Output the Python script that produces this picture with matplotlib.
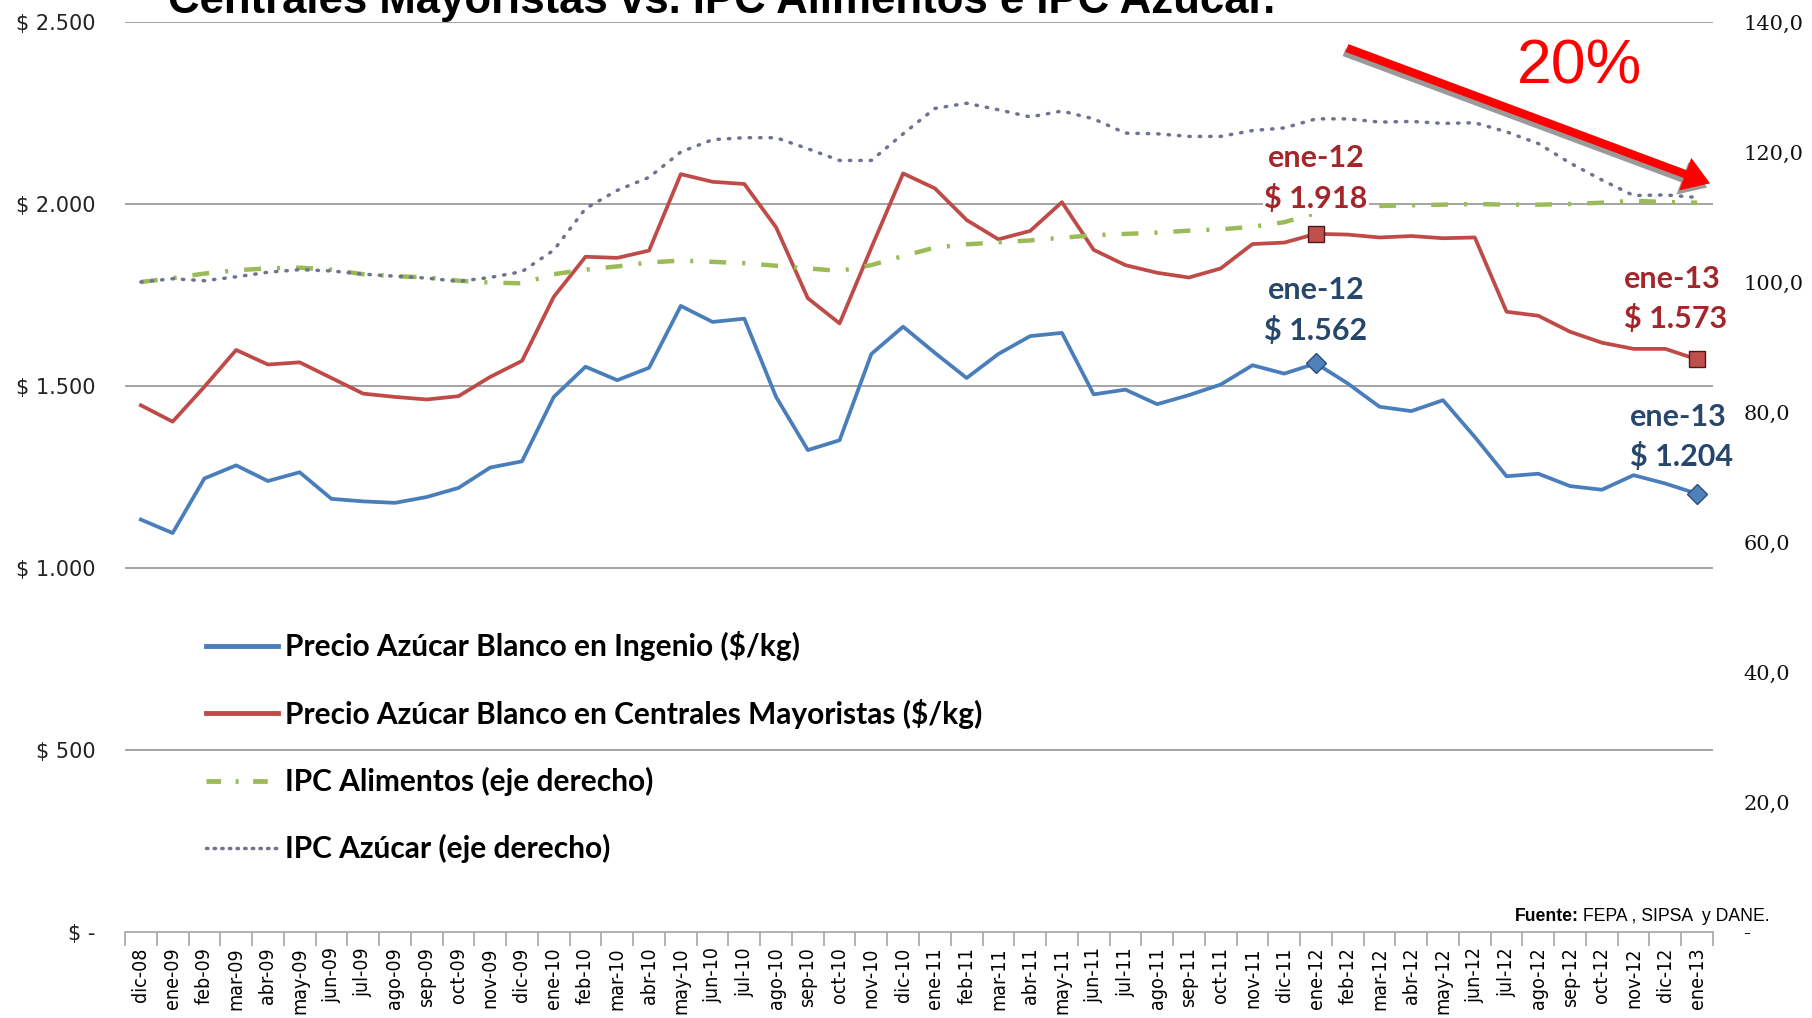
import numpy as np
import matplotlib
matplotlib.use('Agg')
import matplotlib.pyplot as plt
from matplotlib import font_manager as fm
from matplotlib import patheffects as pe
from matplotlib.lines import Line2D

months = ['dic-08',
          'ene-09', 'feb-09', 'mar-09', 'abr-09', 'may-09', 'jun-09', 'jul-09', 'ago-09', 'sep-09', 'oct-09', 'nov-09', 'dic-09',
          'ene-10', 'feb-10', 'mar-10', 'abr-10', 'may-10', 'jun-10', 'jul-10', 'ago-10', 'sep-10', 'oct-10', 'nov-10', 'dic-10',
          'ene-11', 'feb-11', 'mar-11', 'abr-11', 'may-11', 'jun-11', 'jul-11', 'ago-11', 'sep-11', 'oct-11', 'nov-11', 'dic-11',
          'ene-12', 'feb-12', 'mar-12', 'abr-12', 'may-12', 'jun-12', 'jul-12', 'ago-12', 'sep-12', 'oct-12', 'nov-12', 'dic-12',
          'ene-13']

ingenio = [1133, 1096, 1246, 1282, 1239, 1263, 1190, 1183, 1179, 1195,
           1220, 1276, 1293, 1470, 1553, 1516, 1550, 1720, 1676, 1685,
           1470, 1324, 1351, 1588, 1663, 1591, 1522, 1588, 1637, 1646,
           1477, 1490, 1450, 1475, 1504, 1557, 1534, 1562, 1507, 1443,
           1431, 1461, 1360, 1252, 1259, 1225, 1215, 1255, 1232, 1204]

centrales = [1447, 1402, 1498, 1599, 1559, 1565, 1522, 1479, 1470, 1463,
             1472, 1525, 1569, 1745, 1855, 1852, 1872, 2082, 2061, 2055,
             1936, 1741, 1672, 1880, 2084, 2043, 1956, 1903, 1926, 2005,
             1874, 1832, 1811, 1798, 1823, 1890, 1894, 1918, 1916, 1908,
             1912, 1906, 1908, 1704, 1693, 1649, 1619, 1602, 1602, 1573]

ipc_alimentos = [100.0, 100.6, 101.3, 101.8, 102.1, 102.2, 101.9, 101.2, 100.9, 100.7,
                 100.2, 99.9, 99.8, 101.2, 101.9, 102.4, 103.0, 103.3, 103.1, 102.9,
                 102.5, 102.1, 101.7, 102.6, 104.0, 105.3, 105.8, 106.1, 106.4, 106.8,
                 107.2, 107.4, 107.6, 107.9, 108.1, 108.5, 109.2, 110.6, 111.4, 111.7,
                 111.8, 111.9, 112.0, 111.9, 111.9, 112.0, 112.2, 112.5, 112.3, 112.2]

ipc_azucar = [100.0, 100.5, 100.2, 100.8, 101.5, 101.9, 101.7, 101.2, 100.9, 100.6,
              100.1, 100.7, 101.6, 104.9, 111.3, 114.1, 116.1, 120.0, 121.9, 122.2,
              122.2, 120.5, 118.7, 118.7, 122.8, 126.7, 127.5, 126.5, 125.4, 126.3,
              125.1, 122.9, 122.8, 122.4, 122.4, 123.3, 123.7, 125.1, 125.1, 124.6,
              124.7, 124.4, 124.5, 123.1, 121.3, 118.3, 115.7, 113.3, 113.4, 113.0]

left_ticks = [0, 500, 1000, 1500, 2000, 2500]
left_labels = ['$ -', '$ 500', '$ 1.000', '$ 1.500', '$ 2.000', '$ 2.500']
right_ticks = [0, 20, 40, 60, 80, 100, 120, 140]
right_labels = ['-', '20,0', '40,0', '60,0', '80,0', '100,0', '120,0', '140,0']
series_names = ['Precio Azúcar Blanco en Ingenio ($/kg)',
                'Precio Azúcar Blanco en Centrales Mayoristas ($/kg)',
                'IPC Alimentos (eje derecho)',
                'IPC Azúcar (eje derecho)']
highlight = [37, 49]   # ene-12, ene-13

avail = {f.name for f in fm.fontManager.ttflist}
def pick(*cands):
    for c in cands:
        if c in avail:
            return c
    return 'DejaVu Sans'

LATO = pick('Lato', 'Open Sans', 'DejaVu Sans')
ARIAL = pick('Liberation Sans', 'DejaVu Sans')
NARROW = pick('Liberation Sans Narrow', 'Liberation Sans', 'DejaVu Sans')
SANS = 'DejaVu Sans'
SERIF = pick('DejaVu Serif', 'Liberation Serif')
has_condensed = any(f.name == 'DejaVu Sans' and f.stretch == 'condensed'
                    for f in fm.fontManager.ttflist)
XT_SIZE = 14 if has_condensed else 13
XT_STRETCH = 'condensed' if has_condensed else 'normal'

BLUE = '#4A7EBB'
RED = '#BE4B48'
GREEN = '#9BBB59'
PURPLE = '#6F7390'
TXT_RED = '#A3262A'
TXT_BLUE = '#27466B'

W, H = 1812, 1018
fig = plt.figure(figsize=(W / 100, H / 100), dpi=100)
L, R, T, B = 125, 1713, 22, 932
ax = fig.add_axes([L / W, 1 - B / H, (R - L) / W, (B - T) / H])
ax2 = ax.twinx()

x = np.arange(len(months))

for v in left_ticks[1:]:
    ax.axhline(v, color='#8C8C8C', lw=1.1, zorder=0)

ax.plot(x, ingenio, color=BLUE, lw=2.7, marker='D', markevery=highlight, ms=10,
        mfc='#4F81BD', mec='#2C4D75', mew=1, zorder=3)
ax.plot(x, centrales, color=RED, lw=2.7, marker='s', markevery=highlight, ms=11,
        mfc='#C0504D', mec='#4D1A1A', mew=1, zorder=3)
ax2.plot(x, ipc_alimentos, color=GREEN, lw=3.2, linestyle=(0, (3.8, 3.6, 0.7, 3.6)), zorder=2)
ax2.plot(x, ipc_azucar, color=PURPLE, lw=2.5, linestyle=(0, (0.4, 2.6)),
         dash_capstyle='round', zorder=2)

ax.set_xlim(-0.5, len(months) - 0.5)
ax.set_ylim(0, 2500)
ax2.set_ylim(0, 140)

ax.set_xticks(x)
ax.set_xticklabels(months, rotation=90, fontsize=XT_SIZE, family=SANS, fontstretch=XT_STRETCH)
ax.set_xticks(np.arange(-0.5, len(months), 1), minor=True)
ax.tick_params(axis='x', which='major', length=0, pad=11)
ax.tick_params(axis='x', which='minor', length=10, color='#A6A6A6', width=1.2)

ax.set_yticks(left_ticks)
ax.set_yticklabels(left_labels, fontsize=15, family=SANS, color='#222222')
ax.tick_params(axis='y', length=0, pad=21)
ax2.set_yticks(right_ticks)
ax2.set_yticklabels(right_labels, fontsize=15, family=SERIF, color='#111111')
ax2.tick_params(axis='y', length=0, pad=22)

for s in ['top', 'left', 'right']:
    ax.spines[s].set_visible(False)
ax.spines['bottom'].set_color('#A6A6A6')
ax.spines['bottom'].set_linewidth(1.2)
for s in ax2.spines.values():
    s.set_visible(False)

handles = [Line2D([], [], color=BLUE, lw=3.5),
           Line2D([], [], color=RED, lw=3.5),
           Line2D([], [], color=GREEN, lw=3.5, linestyle=(0, (3, 3, 0.6, 3))),
           Line2D([], [], color=PURPLE, lw=2.5, linestyle=(0, (0.4, 1.8)), dash_capstyle='round')]
leg = ax2.legend(handles, series_names, loc='center left', bbox_to_anchor=(0.051, 0.2033),
                 frameon=False, borderpad=0, borderaxespad=0, handlelength=2.4,
                 handletextpad=0.24, labelspacing=1.27,
                 prop=dict(family=LATO, weight='bold', size=21.5))

def note(i, val, color, dx, ha, offs):
    label = ('$ ' + f'{val:,.0f}'.replace(',', '.'))
    for txt, dy in zip([months[i], label], offs):
        ax2.annotate(txt, xy=(i, val), xycoords=ax.transData, xytext=(dx, dy),
                     textcoords='offset pixels', ha=ha, va='baseline', color=color,
                     fontsize=22, family=LATO, fontweight='bold',
                     bbox=dict(fc='white', ec='none', pad=1), zorder=6)

note(37, centrales[37], TXT_RED, 0, 'center', (67, 26))
note(37, ingenio[37], TXT_BLUE, 0, 'center', (64, 23))
note(49, centrales[49], TXT_RED, -73, 'left', (71, 31))
note(49, ingenio[49], TXT_BLUE, -67, 'left', (68, 28))

ax2.annotate('', xy=(0.9981, 0.8227), xycoords='axes fraction',
             xytext=(0.7695, 0.9714), textcoords='axes fraction',
             arrowprops=dict(arrowstyle='simple,head_length=0.95,head_width=1.25,tail_width=0.3',
                             mutation_scale=20, fc='#FF0000', ec='none', shrinkA=0, shrinkB=0,
                             path_effects=[pe.withSimplePatchShadow(offset=(-2, -3),
                                                                    shadow_rgbFace='#9A9A9A', alpha=1)]),
             zorder=7)
ax2.text(0.9162, 0.9329, '20%', transform=ax2.transAxes, ha='center', va='baseline',
         color='#FF0000', fontsize=45, family=ARIAL, zorder=7)

title = fig.text(168 / W, 1 - 13 / H, 'Centrales Mayoristas vs. IPC Alimentos e IPC Azúcar.',
                 fontweight='bold', family=ARIAL, fontsize=30, ha='left', va='baseline')
fig.canvas.draw()
r = fig.canvas.get_renderer()
wt = title.get_window_extent(r).width
title.set_fontsize(30 * 1109 / wt)

src = fig.text(1770 / W, 1 - 921 / H, ' FEPA , SIPSA  y DANE.', ha='right', va='baseline',
               family=NARROW, fontsize=12.7)
fig.canvas.draw()
ax2.annotate('Fuente:', xy=(0, 0), xycoords=src, ha='right', va='bottom',
             family=NARROW, fontsize=12.7, fontweight='bold', annotation_clip=False)

fig.savefig('out.png', dpi=100)
